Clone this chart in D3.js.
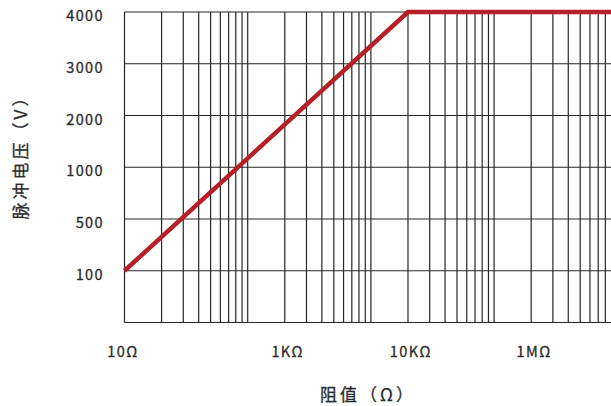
<!DOCTYPE html>
<html>
<head>
<meta charset="utf-8">
<script src="https://cdn.jsdelivr.net/npm/d3@7"></script>
<style>
  html, body { margin: 0; padding: 0; background: #fff; }
  svg { display: block; }
  text { font-family: "Noto Sans CJK SC", "Noto Sans", sans-serif; fill: #2b2b2b; stroke: #2b2b2b; stroke-width: 0.3px; }
</style>
</head>
<body>
<svg id="chart" width="611" height="406"></svg>
<script>
// ---- data ----
const yCategories = ["", "100", "500", "1000", "2000", "3000", "4000"];
const xTickValues = [10, 100, 1000, 10000];
const xTickLabels = ["10Ω", "1KΩ", "10KΩ", "1MΩ"];
const gridDecades = [10, 100, 1000, 10000];
const gridMultipliers = [1, 2, 3, 4, 5, 6, 7, 8, 9];
const curveResistance = [10, 2000, 100000];
const curveVoltage = ["100", "4000", "4000"];
const xTitle = "阻值（Ω）";
const yTitle = "脉冲电压（V）";

// ---- layout ----
const svg = d3.select("#chart");
const plotLeft = 124.5, plotTop = 12, plotBottom = 322.5, decadePx = 123.2;
const x = d3.scaleLog().domain([10, 100000]).range([plotLeft, plotLeft + 4 * decadePx]);
const y = d3.scalePoint().domain(yCategories).range([plotBottom, plotTop]);

svg.append("defs").append("clipPath").attr("id", "plotclip")
  .append("rect").attr("x", plotLeft - 3).attr("y", plotTop - 4)
  .attr("width", 611 - plotLeft + 3).attr("height", plotBottom - plotTop + 8);

const g = svg.append("g").attr("clip-path", "url(#plotclip)");

// vertical grid lines
const vLines = [];
gridDecades.forEach(d => gridMultipliers.forEach(m => vLines.push(d * m)));
vLines.push(100000);
g.selectAll("line.v").data(vLines).enter().append("line")
  .attr("class", "v")
  .attr("x1", d => x(d)).attr("x2", d => x(d))
  .attr("y1", plotTop).attr("y2", plotBottom)
  .attr("stroke", "#262626").attr("stroke-width", 1.2);

// horizontal grid lines
g.selectAll("line.h").data(yCategories).enter().append("line")
  .attr("class", "h")
  .attr("x1", plotLeft).attr("x2", 620)
  .attr("y1", d => y(d)).attr("y2", d => y(d))
  .attr("stroke", "#262626").attr("stroke-width", 1.2);

// curve
const pts = curveResistance.map((r, i) => [x(r), y(curveVoltage[i])]);
g.append("path")
  .attr("d", d3.line()(pts))
  .attr("fill", "none")
  .attr("stroke", "#b51f26")
  .attr("stroke-width", 4.5)
  .attr("stroke-linejoin", "miter");

// y tick labels
svg.selectAll("text.ytick").data(yCategories.filter(d => d !== "")).enter().append("text")
  .attr("class", "ytick")
  .attr("x", 104)
  .attr("y", d => y(d) + 4)
  .attr("dy", "0.35em")
  .attr("text-anchor", "end")
  .style("font-size", "14.5px")
  .style("font-weight", 400)
  .style("letter-spacing", "1.4px")
  .text(d => d);

// x tick labels
svg.selectAll("text.xtick").data(xTickValues).enter().append("text")
  .attr("class", "xtick")
  .attr("x", (d, i) => i === 0 ? x(d) - 1.5 : x(d) + 40)
  .attr("y", 352)
  .attr("dy", "0.35em")
  .attr("text-anchor", "middle")
  .style("font-size", "14.5px")
  .style("font-weight", 400)
  .style("letter-spacing", "1.4px")
  .text((d, i) => xTickLabels[i]);

// axis titles
svg.append("text")
  .attr("x", 368).attr("y", 395)
  .attr("dy", "0.35em")
  .attr("text-anchor", "middle")
  .style("font-size", "17px")
  .style("font-weight", 400)
  .style("letter-spacing", "3px")
  .text(xTitle);

svg.append("text")
  .attr("transform", "translate(21,153) rotate(-90)")
  .attr("dy", "0.35em")
  .attr("text-anchor", "middle")
  .style("font-size", "17px")
  .style("font-weight", 400)
  .style("letter-spacing", "3px")
  .text(yTitle);
</script>
</body>
</html>
